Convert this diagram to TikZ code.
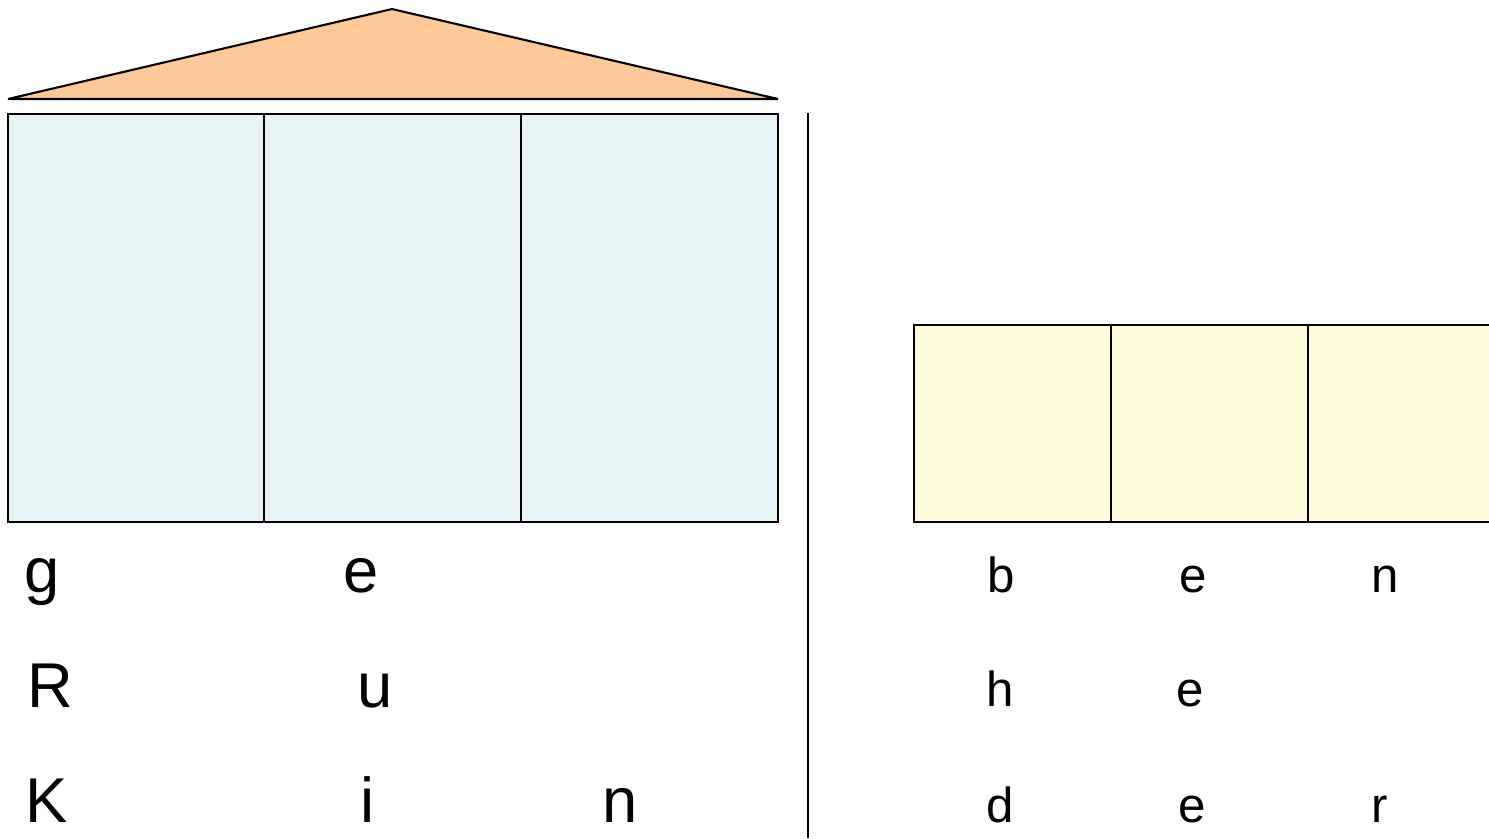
\documentclass[tikz,border=0pt]{standalone}
\usepackage{fontspec}
\setmainfont{Liberation Sans}
\definecolor{roof}{RGB}{253,201,152}
\definecolor{wall}{RGB}{229,243,244}
\definecolor{pad}{RGB}{255,253,222}
\begin{document}
\begin{tikzpicture}[x=0.01cm, y=-0.01cm, line width=0.6pt,
    big/.style={anchor=base, inner sep=0pt, font=\fontsize{18}{20}\selectfont},
    small/.style={anchor=base, inner sep=0pt, font=\fontsize{14}{16}\selectfont}]
        \useasboundingbox (0,0) rectangle (1489,838);
        % roof and columns
        \filldraw[fill=roof, line join=bevel] (8,99) -- (392,9) -- (778,99) -- cycle;
        \filldraw[fill=wall] (8,114) rectangle (264,522);
        \filldraw[fill=wall] (264,114) rectangle (521,522);
        \filldraw[fill=wall] (521,114) rectangle (778,522);
        \draw (808,113) -- (808,838);
        % right row
        \filldraw[fill=pad] (914,325) rectangle (1111,522);
        \filldraw[fill=pad] (1111,325) rectangle (1308,522);
        \filldraw[fill=pad] (1308,325) rectangle (1505,522);
        % left letters
        \node[big] (lg) at (42,592) {g};
        \node[big] (le) at (361,592) {e};
        \node[big] (lR) at (50,707) {R};
        \node[big] (lu) at (375,707) {u};
        \node[big] (lK) at (47,822) {K};
        \node[big] (li) at (368,822) {i};
        \node[big] (ln) at (620,822) {n};
        % right letters
        \node[small] (rb) at (1001,592) {b};
        \node[small] (re1) at (1193,592) {e};
        \node[small] (rn) at (1385,592) {n};
        \node[small] (rh) at (1000,706) {h};
        \node[small] (re2) at (1190,706) {e};
        \node[small] (rd) at (1000,822) {d};
        \node[small] (re3) at (1192,822) {e};
        \node[small] (rr) at (1380,822) {r};
    \end{tikzpicture}
\end{document}
